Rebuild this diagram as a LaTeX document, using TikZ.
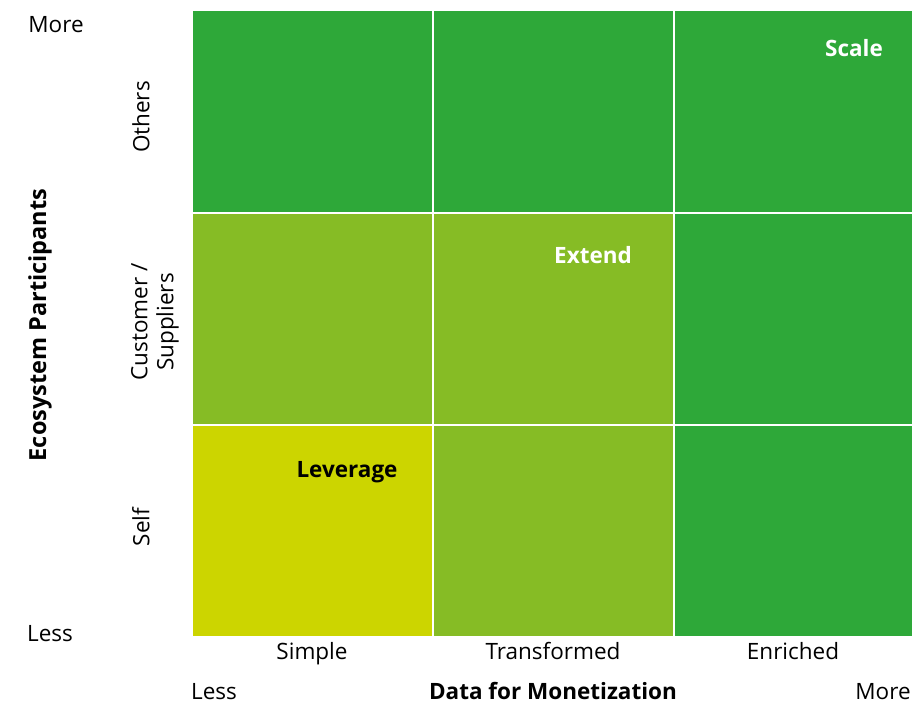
\documentclass[tikz,border=0pt]{standalone}
\usepackage{fontspec}
\setmainfont{Open Sans}
\begin{document}
\begin{tikzpicture}[x=1pt,y=-1pt,
  lbl/.style={font=\fontsize{22.5}{26}\selectfont, text=black, inner sep=0pt, anchor=base},
  blbl/.style={font=\fontsize{22.5}{26}\selectfont\bfseries, inner sep=0pt, anchor=base},
  rlbl/.style={text=black, inner sep=0pt, rotate=90, align=center, font=\fontsize{22.5}{26}\selectfont}]
\useasboundingbox (0,0) rectangle (912,703);
\definecolor{dkgreen}{HTML}{2EA839}
\definecolor{mdgreen}{HTML}{86BC25}
\definecolor{ylgreen}{HTML}{CCD500}
% cells
\fill[dkgreen] (193,11) rectangle (912,636);
\fill[mdgreen] (193,213) rectangle (673,636);
\fill[ylgreen] (193,424) rectangle (432,636);
\fill[dkgreen] (673,213) rectangle (912,636);
\draw[white, line width=2pt] (433,11) -- (433,636);
\draw[white, line width=2pt] (674,11) -- (674,636);
\draw[white, line width=2pt] (193,213.5) -- (912,213.5);
\draw[white, line width=2pt] (193,424.5) -- (912,424.5);
% cell labels
\node[blbl, text=white] (scale) at (854,57) {Scale};
\node[blbl, text=white] (extend) at (593,263) {Extend};
\node[blbl, text=black] (leverage) at (347,477) {Leverage};
% y axis
\node[lbl] (ymore) at (56,33) {More};
\node[lbl] (yless) at (50,641) {Less};
\node[rlbl] (others) at (141,117) {Others};
\node[rlbl] (cust) at (155,322) {Customer /\\Suppliers};
\node[rlbl] (self) at (141,527) {Self};
\node[inner sep=0pt, rotate=90, font=\fontsize{23.5}{27}\selectfont\bfseries] (ytitle) at (40,325) {Ecosystem Participants};
% x axis
\node[lbl] (simple) at (312,659) {Simple};
\node[lbl] (transf) at (553,659) {Transformed};
\node[lbl] (enriched) at (793,659) {Enriched};
\node[lbl, text depth=0pt] (xless) at (214,699.5) {Less};
\node[blbl, text depth=0pt] (xtitle) at (553,699.5) {Data for Monetization};
\node[lbl, text depth=0pt] (xmore) at (883,699.5) {More};
\end{tikzpicture}
\end{document}
